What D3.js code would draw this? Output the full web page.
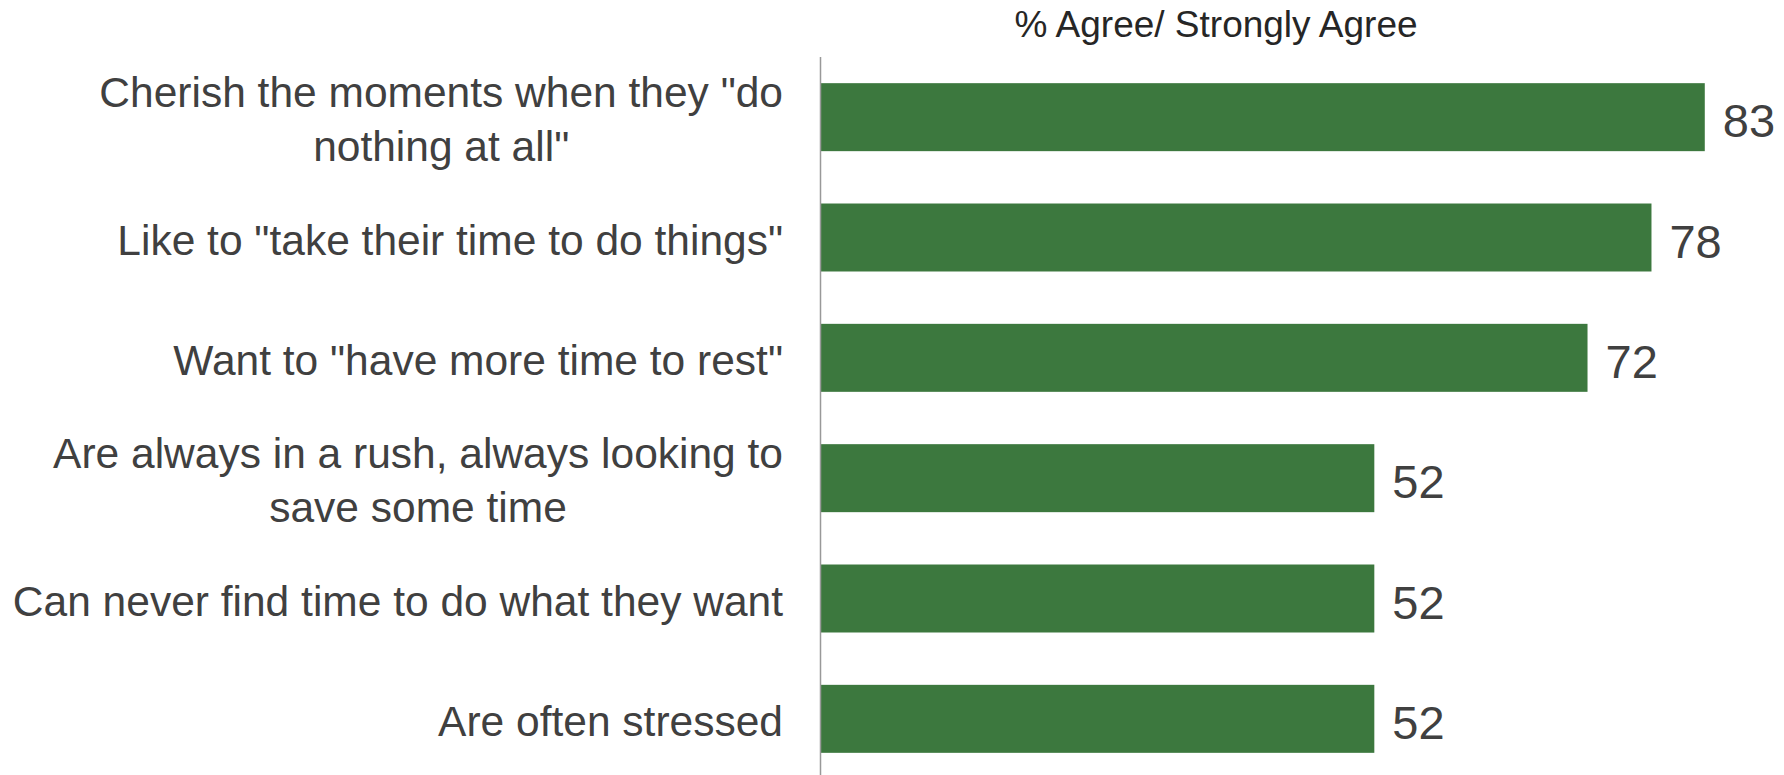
<!DOCTYPE html>
<html>
<head>
<meta charset="utf-8">
<script src="https://cdn.jsdelivr.net/npm/d3@7"></script>
<style>
  body { margin: 0; background: #fff; }
  text { font-family: "Liberation Sans", Arial, sans-serif; }
</style>
</head>
<body>
<div id="chart"></div>
<script>
// data
var categories = [
  'Cherish the moments when they "do\nnothing at all"',
  'Like to "take their time to do things"',
  'Want to "have more time to rest"',
  'Are always in a rush, always looking to\nsave some time',
  'Can never find time to do what they want',
  'Are often stressed'
];
var values = [83, 78, 72, 52, 52, 52];
var chartTitle = "% Agree/ Strongly Agree";

var width = 1784, height = 775;
var axisX = 820;
var labelRight = 783;

var svg = d3.select("#chart")
  .append("svg")
    .attr("width", width)
    .attr("height", height);

// scales
var x = d3.scaleLinear()
  .domain([0, 100])
  .range([axisX, axisX + 1066]);

var y = d3.scaleBand()
  .domain(categories)
  .range([57, 779])
  .paddingInner(0.435)
  .paddingOuter(0.2175);

// bars
svg.selectAll(".bar")
  .data(values)
  .enter()
  .append("rect")
    .attr("class", "bar")
    .attr("x", x(0))
    .attr("y", function(d, i) { return y(categories[i]); })
    .attr("width", function(d) { return x(d) - x(0); })
    .attr("height", y.bandwidth())
    .attr("fill", "#3c783e");

// axis line
svg.append("line")
  .attr("x1", axisX + 0.5).attr("x2", axisX + 0.5)
  .attr("y1", 57).attr("y2", height)
  .attr("stroke", "#999")
  .attr("stroke-width", 1.5);

// value labels
svg.selectAll(".val")
  .data(values)
  .enter()
  .append("text")
    .attr("class", "val")
    .attr("x", function(d) { return x(d) + 18; })
    .attr("y", function(d, i) { return y(categories[i]) + y.bandwidth() / 2; })
    .attr("dy", "0.43em")
    .style("font-size", "47px")
    .style("fill", "#404040")
    .text(function(d) { return d; });

// category labels (multi-line ones are centred as a block, block right-aligned)
var lineH = 54;
var labels = svg.selectAll(".cat")
  .data(categories)
  .enter()
  .append("text")
    .attr("class", "cat")
    .style("font-size", "42.5px")
    .style("fill", "#404040");

labels.each(function(d) {
  var lines = d.split("\n");
  var cy = y(d) + y.bandwidth() / 2 + 2;
  var t = d3.select(this);
  var spans = lines.map(function(l, k) {
    return t.append("tspan")
      .attr("y", cy + (k - (lines.length - 1) / 2) * lineH)
      .attr("dy", "0.36em")
      .text(l);
  });
  var maxW = d3.max(spans, function(s) { return s.node().getComputedTextLength(); });
  t.attr("text-anchor", "middle");
  spans.forEach(function(s) { s.attr("x", labelRight - maxW / 2); });
});

// title
svg.append("text")
  .attr("x", 1216)
  .attr("y", 37)
  .attr("text-anchor", "middle")
  .style("font-size", "37px")
  .style("fill", "#262626")
  .text(chartTitle);
</script>
</body>
</html>
